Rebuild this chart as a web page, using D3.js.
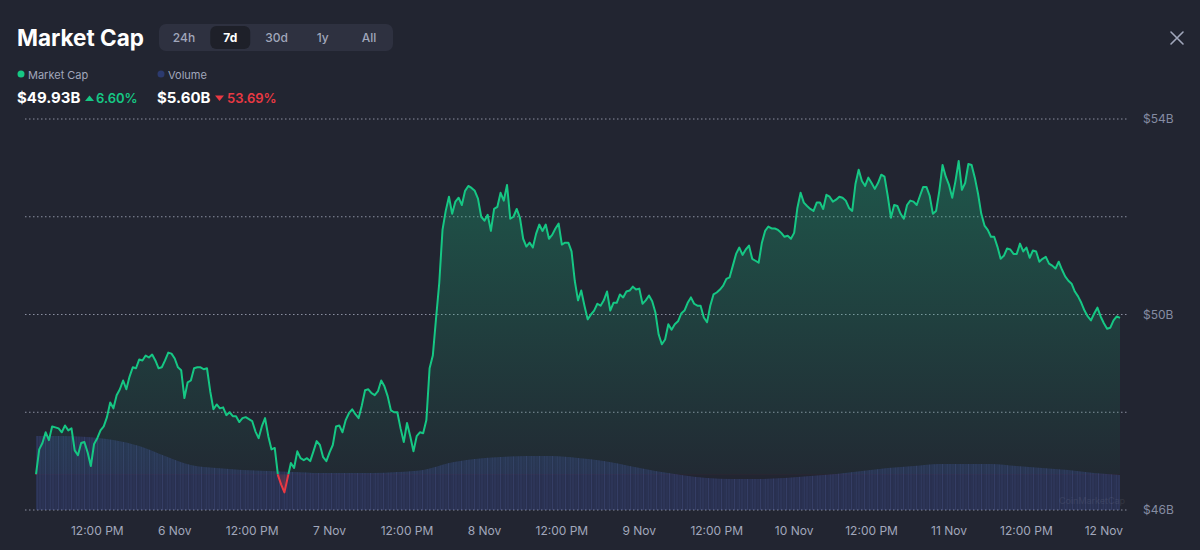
<!DOCTYPE html>
<html>
<head>
<meta charset="utf-8">
<script src="https://cdn.jsdelivr.net/npm/d3@7"></script>
<style>
  html, body { margin: 0; padding: 0; background: #222531; }
  svg { display: block; font-family: Inter, "Noto Sans", sans-serif; }
</style>
</head>
<body>
<svg id="chart" width="1200" height="550"></svg>
<script>
// ---- data (market cap in $B, one point every 30 min) ----
const startTime   = new Date(2024, 10, 5, 2, 30);
const stepMinutes = 30;
const marketCap = [
  46.73, 47.24, 47.37, 47.59, 47.43, 47.71, 47.69, 47.67, 47.59, 47.73,
  47.63, 47.67, 47.22, 47.12, 47.37, 47.39, 47.18, 46.90, 47.35, 47.47,
  47.63, 47.71, 47.90, 48.20, 48.08, 48.35, 48.47, 48.65, 48.47, 48.73,
  48.92, 48.90, 49.08, 49.06, 49.16, 49.12, 49.18, 49.06, 48.90, 48.92,
  49.06, 49.22, 49.20, 49.10, 48.92, 48.86, 48.29, 48.61, 48.65, 48.90,
  48.92, 48.92, 48.88, 48.90, 48.43, 48.06, 48.16, 48.08, 48.10, 47.94,
  48.00, 47.92, 47.92, 47.80, 47.88, 47.90, 47.86, 47.82, 47.61, 47.47,
  47.71, 47.88, 47.51, 47.24, 47.27, 46.71, 46.52, 46.36, 46.66, 46.96,
  46.86, 47.20, 47.06, 47.02, 47.06, 47.00, 47.20, 47.41, 47.33, 47.08,
  47.00, 47.18, 47.33, 47.71, 47.73, 47.59, 47.84, 47.98, 48.06, 47.96,
  47.88, 48.14, 48.45, 48.47, 48.39, 48.35, 48.43, 48.65, 48.53, 48.33,
  48.04, 48.00, 48.00, 47.67, 47.39, 47.78, 47.51, 47.20, 47.51, 47.59,
  47.57, 47.84, 48.90, 49.16, 49.92, 50.65, 51.73, 52.12, 52.41, 52.06,
  52.31, 52.39, 52.24, 52.53, 52.63, 52.59, 52.53, 52.37, 52.00, 51.92,
  52.04, 51.71, 52.16, 52.20, 52.49, 52.33, 52.65, 51.96, 52.00, 52.16,
  51.98, 51.55, 51.39, 51.47, 51.37, 51.65, 51.84, 51.71, 51.84, 51.55,
  51.63, 51.76, 51.86, 51.43, 51.47, 51.47, 51.29, 50.69, 50.29, 50.49,
  50.18, 49.90, 50.00, 50.08, 50.22, 50.18, 50.29, 50.47, 50.08, 50.24,
  50.24, 50.41, 50.35, 50.47, 50.49, 50.57, 50.51, 50.53, 50.22, 50.29,
  50.39, 50.27, 50.04, 49.59, 49.39, 49.49, 49.80, 49.69, 49.80, 49.86,
  50.02, 50.08, 50.24, 50.35, 50.22, 50.18, 50.18, 49.94, 49.84, 50.18,
  50.41, 50.45, 50.51, 50.59, 50.73, 50.76, 51.00, 51.24, 51.37, 51.22,
  51.33, 51.41, 51.14, 51.10, 51.06, 51.47, 51.71, 51.80, 51.76, 51.76,
  51.73, 51.67, 51.59, 51.61, 51.55, 51.67, 52.18, 52.49, 52.29, 52.22,
  52.16, 52.12, 52.29, 52.29, 52.16, 52.45, 52.41, 52.31, 52.35, 52.41,
  52.39, 52.33, 52.18, 52.12, 52.67, 52.96, 52.73, 52.63, 52.80, 52.69,
  52.57, 52.69, 52.86, 52.82, 52.43, 51.98, 52.24, 52.22, 52.06, 51.96,
  52.24, 52.33, 52.31, 52.24, 52.43, 52.61, 52.61, 52.43, 52.06, 52.12,
  52.53, 53.06, 52.82, 52.65, 52.39, 52.73, 53.14, 52.55, 52.69, 53.08,
  53.06, 52.80, 52.47, 52.06, 51.82, 51.73, 51.59, 51.59, 51.39, 51.14,
  51.20, 51.35, 51.33, 51.24, 51.24, 51.45, 51.29, 51.37, 51.16, 51.31,
  51.29, 51.08, 51.14, 51.18, 51.04, 51.00, 50.94, 51.08, 50.92, 50.78,
  50.69, 50.63, 50.47, 50.37, 50.24, 50.08, 49.96, 49.88, 50.02, 50.14,
  49.96, 49.82, 49.71, 49.73, 49.88, 49.96, 49.93
];

// 24h volume in $B, one point every 4 hours
const volumeStepHours = 4;
const volume = [
  11.84, 11.84, 11.68, 11.20, 10.24, 8.64, 7.20, 6.72, 6.40, 6.24,
  6.08, 5.92, 5.92, 5.92, 6.08, 6.40, 7.52, 8.16, 8.48, 8.64,
  8.64, 8.32, 7.84, 7.04, 6.24, 5.60, 5.12, 4.96, 4.96, 5.12,
  5.44, 5.76, 6.24, 6.72, 7.04, 7.36, 7.36, 7.36, 7.04, 6.72,
  6.40, 5.92, 5.60
];

const yTicks    = [46, 48, 50, 52, 54];
const yLabelled = [46, 50, 54];
const ranges    = ["24h", "7d", "30d", "1y", "All"];
const activeRange = "7d";
const summary = {cap: "$49.93B", capChange: "6.60%", vol: "$5.60B", volChange: "53.69%"};

// ---- setup ----
const svg = d3.select("#chart"),
  width  = 1200,
  green  = "#16c784",
  red    = "#ea3943",
  grey   = "#a1a7bb",
  plotL  = 36,
  plotR  = 1120,
  gridL  = 25,
  gridR  = 1128;

const capData = marketCap.map((v, i) => ({t: d3.timeMinute.offset(startTime, i * stepMinutes), v: v}));
const volData = volume.map((v, i) => ({t: d3.timeHour.offset(startTime, i * volumeStepHours), v: v}));
const endTime = capData[capData.length - 1].t;
const baseline = marketCap[0];

const x    = d3.scaleTime().domain([startTime, endTime]).range([plotL, plotR]);
const y    = d3.scaleLinear().domain([46, 54]).range([510, 119]);
const yVol = d3.scaleLinear().domain([0, 40]).range([510, 260]);

const defs = svg.append("defs");

// gradients for the baseline area
let gUp = defs.append("linearGradient").attr("id", "gUp")
  .attr("gradientUnits", "userSpaceOnUse").attr("x1", 0).attr("x2", 0)
  .attr("y1", y(54)).attr("y2", y(baseline));
gUp.append("stop").attr("offset", 0).attr("stop-color", green).attr("stop-opacity", 0.34);
gUp.append("stop").attr("offset", 1).attr("stop-color", green).attr("stop-opacity", 0.03);

let gDown = defs.append("linearGradient").attr("id", "gDown")
  .attr("gradientUnits", "userSpaceOnUse").attr("x1", 0).attr("x2", 0)
  .attr("y1", y(baseline)).attr("y2", y(46));
gDown.append("stop").attr("offset", 0).attr("stop-color", red).attr("stop-opacity", 0.15);
gDown.append("stop").attr("offset", 1).attr("stop-color", red).attr("stop-opacity", 0.5);

defs.append("clipPath").attr("id", "clipUp").append("rect")
  .attr("x", 0).attr("y", 0).attr("width", width).attr("height", y(baseline));
defs.append("clipPath").attr("id", "clipDown").append("rect")
  .attr("x", 0).attr("y", y(baseline)).attr("width", width).attr("height", 550 - y(baseline));

// stripe texture for the volume bars
let pat = defs.append("pattern").attr("id", "stripes")
  .attr("patternUnits", "userSpaceOnUse").attr("width", 13).attr("height", 10);
[[0.5, 0.12], [3.5, 0.05], [6, 0.15], [9.5, 0.04], [11, 0.09]].forEach(p => {
  pat.append("rect").attr("x", p[0]).attr("y", 0).attr("width", 1).attr("height", 10)
    .attr("fill", "#6f82d8").attr("opacity", p[1]);
});

// ---- grid ----
svg.append("g").selectAll("line")
  .data(yTicks)
  .enter().append("line")
  .attr("x1", gridL).attr("x2", gridR)
  .attr("y1", d => y(d)).attr("y2", d => y(d))
  .attr("stroke", "#8a8fa0")
  .attr("stroke-width", 1)
  .attr("stroke-dasharray", "1.5,2.5");

svg.append("g").selectAll("text")
  .data(yLabelled)
  .enter().append("text")
  .attr("x", 1143).attr("y", d => y(d)).attr("dy", "0.35em")
  .attr("fill", "#858ca2").attr("font-size", 12)
  .text(d => "$" + d + "B");

// ---- volume ----
let volArea = d3.area()
  .x(d => x(d.t)).y0(yVol(0)).y1(d => yVol(d.v))
  .curve(d3.curveMonotoneX);

svg.append("path").datum(volData)
  .attr("d", volArea).attr("fill", "#3d4fa0").attr("opacity", 0.28);
svg.append("path").datum(volData)
  .attr("d", volArea).attr("fill", "url(#stripes)");

// ---- market cap baseline area + line ----
let capArea = d3.area().x(d => x(d.t)).y0(y(baseline)).y1(d => y(d.v));
let capLine = d3.line().x(d => x(d.t)).y(d => y(d.v));

svg.append("path").datum(capData).attr("d", capArea)
  .attr("fill", "url(#gUp)").attr("clip-path", "url(#clipUp)");
svg.append("path").datum(capData).attr("d", capArea)
  .attr("fill", "url(#gDown)").attr("clip-path", "url(#clipDown)");

svg.append("path").datum(capData).attr("d", capLine)
  .attr("fill", "none").attr("stroke", green).attr("stroke-width", 2)
  .attr("stroke-linejoin", "round").attr("clip-path", "url(#clipUp)");
svg.append("path").datum(capData).attr("d", capLine)
  .attr("fill", "none").attr("stroke", red).attr("stroke-width", 2)
  .attr("stroke-linejoin", "round").attr("clip-path", "url(#clipDown)");

// watermark
svg.append("text").attr("x", 1092).attr("y", 504).attr("text-anchor", "middle")
  .attr("font-size", 9).attr("fill", "#ffffff").attr("opacity", 0.07)
  .text("CoinMarketCap");

// ---- x axis labels ----
let fmtTick = d => d.getHours() === 0 ? d3.timeFormat("%-d %b")(d) : d3.timeFormat("%I:%M %p")(d);
svg.append("g").selectAll("text")
  .data(x.ticks(d3.timeHour.every(12)))
  .enter().append("text")
  .attr("x", d => x(d)).attr("y", 535)
  .attr("text-anchor", "middle")
  .attr("fill", grey).attr("font-size", 12)
  .text(fmtTick);

// ---- header ----
svg.append("text").attr("x", 17).attr("y", 46)
  .attr("fill", "#ffffff").attr("font-size", 22.5).attr("font-weight", 700)
  .text("Market Cap");

svg.append("rect").attr("x", 159).attr("y", 24).attr("width", 234).attr("height", 27)
  .attr("rx", 7).attr("fill", "#2e3140");

let tabX = d3.scalePoint().domain(ranges).range([184, 369]);
svg.append("rect").attr("x", tabX(activeRange) - 20).attr("y", 26).attr("width", 40).attr("height", 23)
  .attr("rx", 6).attr("fill", "#1e2029");
svg.append("g").selectAll("text")
  .data(ranges)
  .enter().append("text")
  .attr("x", d => tabX(d)).attr("y", 38).attr("dy", "0.35em")
  .attr("text-anchor", "middle").attr("font-size", 12)
  .attr("font-weight", d => d === activeRange ? 700 : 500)
  .attr("fill", d => d === activeRange ? "#ffffff" : grey)
  .text(d => d);

// close icon
svg.append("path").attr("d", "M1171,32L1183,44M1183,32L1171,44")
  .attr("stroke", grey).attr("stroke-width", 1.6).attr("stroke-linecap", "round");

// ---- legend ----
svg.append("circle").attr("cx", 21).attr("cy", 74).attr("r", 3.5).attr("fill", green);
svg.append("text").attr("x", 28).attr("y", 75).attr("dy", "0.35em")
  .attr("fill", grey).attr("font-size", 11).text("Market Cap");
svg.append("circle").attr("cx", 161).attr("cy", 74).attr("r", 3.5).attr("fill", "#2c3a6e");
svg.append("text").attr("x", 168).attr("y", 75).attr("dy", "0.35em")
  .attr("fill", grey).attr("font-size", 11).text("Volume");

svg.append("text").attr("x", 17).attr("y", 103)
  .attr("fill", "#ffffff").attr("font-size", 15).attr("font-weight", 700).text(summary.cap);
svg.append("path").attr("d", "M85,101L89.5,95.5L94,101Z").attr("fill", green);
svg.append("text").attr("x", 96).attr("y", 103)
  .attr("fill", green).attr("font-size", 13).attr("font-weight", 600).text(summary.capChange);

svg.append("text").attr("x", 157).attr("y", 103)
  .attr("fill", "#ffffff").attr("font-size", 15).attr("font-weight", 700).text(summary.vol);
svg.append("path").attr("d", "M215,95.5L224,95.5L219.5,101Z").attr("fill", red);
svg.append("text").attr("x", 227).attr("y", 103)
  .attr("fill", red).attr("font-size", 13).attr("font-weight", 600).text(summary.volChange);
</script>
</body>
</html>
